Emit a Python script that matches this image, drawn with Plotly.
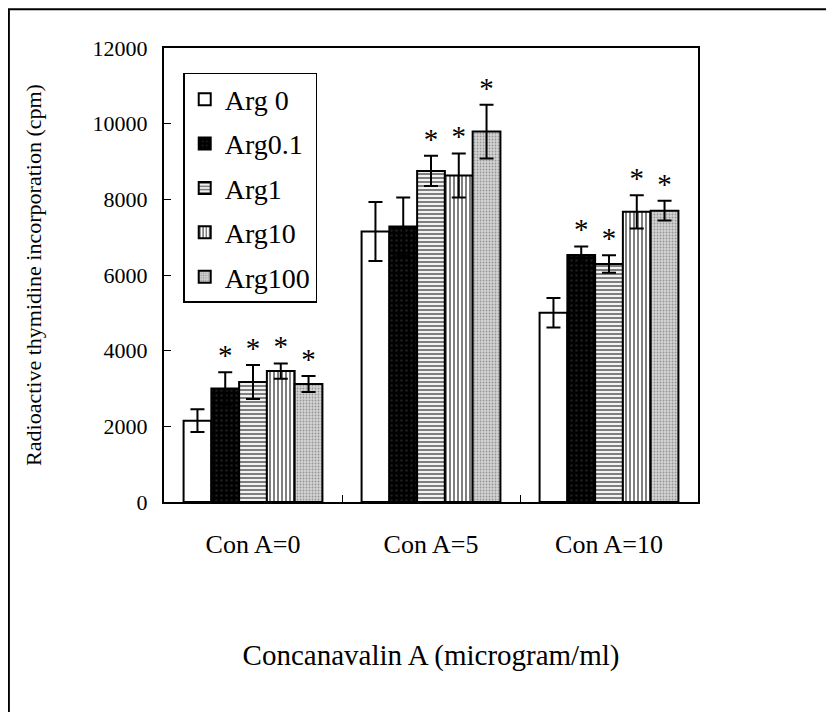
import plotly.graph_objects as go

categories = ["Con A=0", "Con A=5", "Con A=10"]
series_names = ["Arg 0", "Arg0.1", "Arg1", "Arg10", "Arg100"]

arg0 = [2150, 7150, 5000]
arg0_1 = [3000, 7280, 6530]
arg1 = [3170, 8750, 6290]
arg10 = [3460, 8630, 7670]
arg100 = [3120, 9790, 7700]

err0 = [300, 780, 390]
err0_1 = [430, 770, 220]
err1 = [450, 400, 230]
err10 = [200, 580, 440]
err100 = [210, 710, 260]

sig0 = [False, False, False]
sig0_1 = [True, False, True]
sig1 = [True, True, True]
sig10 = [True, True, True]
sig100 = [True, True, True]

y_ticks = [0, 2000, 4000, 6000, 8000, 10000, 12000]
y_tick_labels = ["0", "2000", "4000", "6000", "8000", "10000", "12000"]

values = [arg0, arg0_1, arg1, arg10, arg100]
errors = [err0, err0_1, err1, err10, err100]
sigs = [sig0, sig0_1, sig1, sig10, sig100]

patterns = [
    dict(shape="", bgcolor="white", fgcolor="white"),
    dict(shape=".", bgcolor="black", fgcolor="#3a3a3a", size=5, solidity=0.2),
    dict(shape="-", bgcolor="white", fgcolor="black", size=4, solidity=0.55),
    dict(shape="|", bgcolor="white", fgcolor="black", size=4, solidity=0.5),
    dict(shape=".", bgcolor="#d4d4d4", fgcolor="#555555", size=3, solidity=0.3),
]
fills = ["white", "black", "white", "white", "#d4d4d4"]

FONT = "Liberation Serif"

fig = go.Figure()
for i, name in enumerate(series_names):
    fig.add_trace(go.Bar(
        x=categories, y=values[i], name=name,
        offsetgroup=str(i), legendgroup=str(i),
        marker=dict(color=fills[i], pattern=patterns[i],
                    line=dict(color="black", width=2)),
        error_y=dict(type="data", array=errors[i], visible=True,
                     color="black", thickness=2, width=7),
    ))

for i, name in enumerate(series_names):
    ys = [v + e if s else None for v, e, s in zip(values[i], errors[i], sigs[i])]
    fig.add_trace(go.Scatter(
        x=categories, y=ys, mode="text", text=["*"] * 3,
        textposition="top center", offsetgroup=str(i),
        textfont=dict(family=FONT, size=29, color="black"),
        showlegend=False, hoverinfo="skip", cliponaxis=False,
    ))

fig.update_layout(
    width=834, height=712,
    margin=dict(l=156, r=144, t=40, b=218),
    paper_bgcolor="white", plot_bgcolor="white",
    barmode="group", bargap=0.22, bargroupgap=0,
    scattermode="group", scattergap=0.22,
    font=dict(family=FONT, color="black", size=22),
    showlegend=True,
    legend=dict(
        x=0.036, y=0.945, xanchor="left", yanchor="top",
        bordercolor="black", borderwidth=1.5, bgcolor="white",
        font=dict(family=FONT, size=28, color="black"),
        traceorder="grouped", tracegroupgap=5,
    ),
    xaxis=dict(
        showline=True, linecolor="black", linewidth=2, mirror=True,
        ticks="inside", tickson="boundaries", ticklen=7, tickcolor="black",
        tickfont=dict(family=FONT, size=26, color="black"),
        ticklabelstandoff=18,
        title=dict(text="Concanavalin A (microgram/ml)",
                   font=dict(family=FONT, size=29, color="black"), standoff=86),
        showgrid=False,
    ),
    yaxis=dict(
        range=[0, 12000], tickvals=y_ticks, ticktext=y_tick_labels,
        showline=True, linecolor="black", linewidth=2, mirror=True,
        ticks="inside", ticklen=7, tickcolor="black",
        tickfont=dict(family=FONT, size=22, color="black"),
        ticklabelstandoff=10,
        title=dict(text="Radioactive thymidine incorporation (cpm)",
                   font=dict(family=FONT, size=22, color="black"), standoff=45),
        showgrid=False, zeroline=False,
    ),
    shapes=[dict(type="rect", xref="paper", yref="paper",
                 x0=-0.2905, x1=1.247, y0=-0.6, y1=1.0855,
                 line=dict(color="black", width=2), fillcolor="rgba(0,0,0,0)",
                 layer="below")],
)

fig.write_html("out.html")
